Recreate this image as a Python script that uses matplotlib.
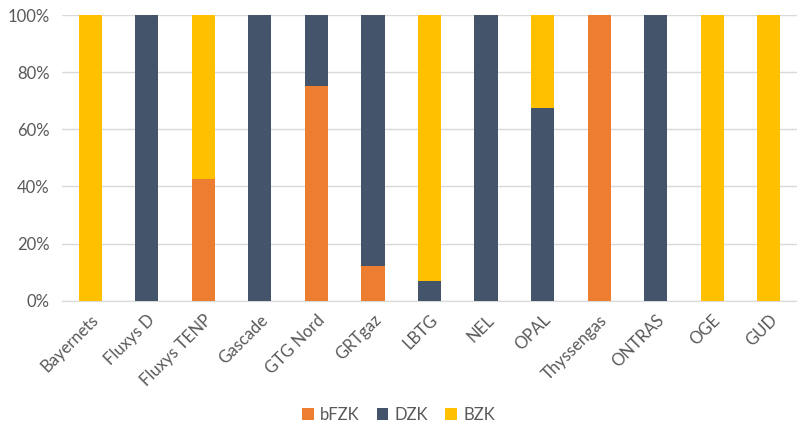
import matplotlib.pyplot as plt
import numpy as np
from matplotlib.ticker import PercentFormatter

plt.rcParams['font.family'] = ['Lato', 'DejaVu Sans']

categories = ["Bayernets", "Fluxys D", "Fluxys TENP", "Gascade", "GTG Nord", "GRTgaz",
              "LBTG", "NEL", "OPAL", "Thyssengas", "ONTRAS", "OGE", "GUD"]
bfzk = [0, 0, 42.6, 0, 75, 12.1, 0, 0, 0, 100, 0, 0, 0]
dzk = [0, 100, 0, 100, 25, 87.9, 6.9, 100, 67.5, 0, 100, 0, 0]
bzk = [100, 0, 57.4, 0, 0, 0, 93.1, 0, 32.5, 0, 0, 100, 100]

colors = {"bFZK": "#ED7D31", "DZK": "#44546A", "BZK": "#FFC000"}
text_color = "#595959"

fig = plt.figure(figsize=(7.97, 4.26), dpi=100)
ax = fig.add_axes([62 / 797, 1 - 300.7 / 426, 735 / 797, 285.7 / 426])

x = np.arange(len(categories))
w = 0.41
bottom = np.zeros(len(categories))
for name, vals in [("bFZK", bfzk), ("DZK", dzk), ("BZK", bzk)]:
    vals = np.array(vals)
    ax.bar(x, vals, w, bottom=bottom, color=colors[name], label=name, zorder=3)
    bottom += vals

ax.set_xlim(-0.5, len(categories) - 0.5)
ax.set_ylim(0, 100)
ax.set_yticks(np.arange(0, 101, 20))
ax.yaxis.set_major_formatter(PercentFormatter(decimals=0))
ax.grid(axis='y', color='#D9D9D9', linewidth=1, zorder=0)
for s in ['top', 'right', 'left']:
    ax.spines[s].set_visible(False)
ax.spines['bottom'].set_color('#D9D9D9')
ax.tick_params(axis='both', length=0, colors=text_color, labelsize=12)
ax.tick_params(axis='y', pad=9)
ax.set_xticks(x)
ax.set_xticklabels(categories, rotation=45, ha='right', rotation_mode='anchor')
ax.tick_params(axis='x', pad=8)

fig.legend(loc='lower center', bbox_to_anchor=(0.5, -0.027), ncol=3, frameon=False,
           fontsize=12, labelcolor=text_color, handlelength=0.7, handleheight=0.7,
           columnspacing=1.0, handletextpad=0.4)

fig.savefig("out.png", dpi=100)
